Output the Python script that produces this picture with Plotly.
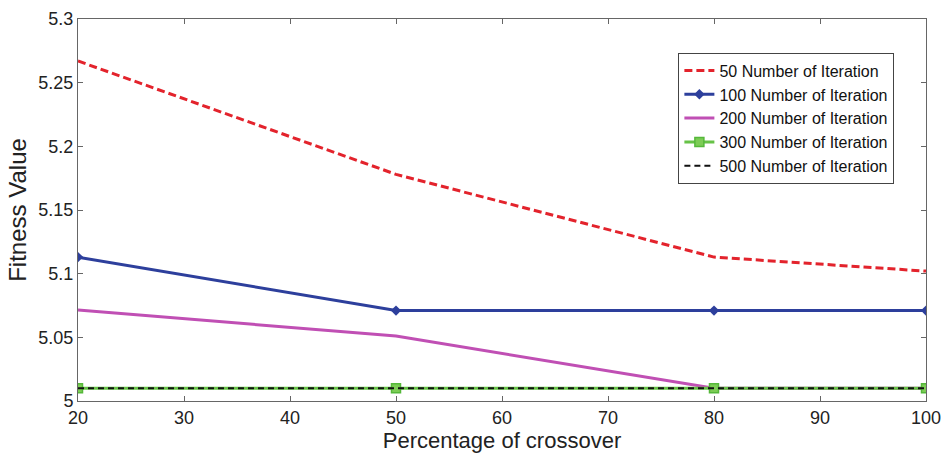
import plotly.graph_objects as go

crossover = [20, 50, 80, 100]
iter50 = [5.267, 5.178, 5.113, 5.102]
iter100 = [5.113, 5.071, 5.071, 5.071]
iter200 = [5.0715, 5.051, 5.010, 5.010]
iter300 = [5.010, 5.010, 5.010, 5.010]
iter500 = [5.010, 5.010, 5.010, 5.010]

FONT = "Liberation Sans Narrow, Arial Narrow, Liberation Sans, Arial, sans-serif"

fig = go.Figure()
fig.add_trace(go.Scatter(x=crossover, y=iter50, mode="lines", name="50 Number of Iteration",
                         line=dict(color="#e3232c", width=3, dash="8px,4px")))
fig.add_trace(go.Scatter(x=crossover, y=iter100, mode="lines+markers", name="100 Number of Iteration",
                         line=dict(color="#2d3f9c", width=3),
                         marker=dict(symbol="diamond", size=8, color="#2d3f9c")))
fig.add_trace(go.Scatter(x=crossover, y=iter200, mode="lines", name="200 Number of Iteration",
                         line=dict(color="#c04fb4", width=3)))
fig.add_trace(go.Scatter(x=crossover, y=iter300, mode="lines+markers", name="300 Number of Iteration",
                         line=dict(color="#66c247", width=3),
                         marker=dict(symbol="square", size=9, color="#7ccc55",
                                     line=dict(color="#55b83a", width=1.5))))
fig.add_trace(go.Scatter(x=crossover, y=iter500, mode="lines", name="500 Number of Iteration",
                         line=dict(color="#111111", width=2, dash="6px,4px")))

axis_common = dict(showline=True, linecolor="#666666", linewidth=1, mirror="ticks",
                   ticks="inside", ticklen=5, tickcolor="#666666", showgrid=False,
                   zeroline=False, tickfont=dict(family=FONT, size=18, color="#222222"))

fig.update_xaxes(range=[20, 100], dtick=10, tick0=20, automargin=False,
                 title=dict(text="Percentage of crossover", font=dict(family=FONT, size=22, color="#222222"),
                            standoff=6),
                 **axis_common)
fig.update_yaxes(range=[5, 5.3], dtick=0.05, tick0=5, automargin=False,
                 title=dict(text="Fitness Value", font=dict(family=FONT, size=24, color="#222222"),
                            standoff=4),
                 **axis_common)

fig.update_layout(
    width=945, height=458,
    margin=dict(l=78, r=19, t=19, b=57),
    paper_bgcolor="white", plot_bgcolor="white",
    showlegend=True,
    legend=dict(x=0.708, y=0.912, xanchor="left", yanchor="top",
                bordercolor="#444444", borderwidth=1, bgcolor="white",
                font=dict(family=FONT, size=16, color="#111111"),
                itemwidth=30, tracegroupgap=0),
)

fig.write_html("out.html")
